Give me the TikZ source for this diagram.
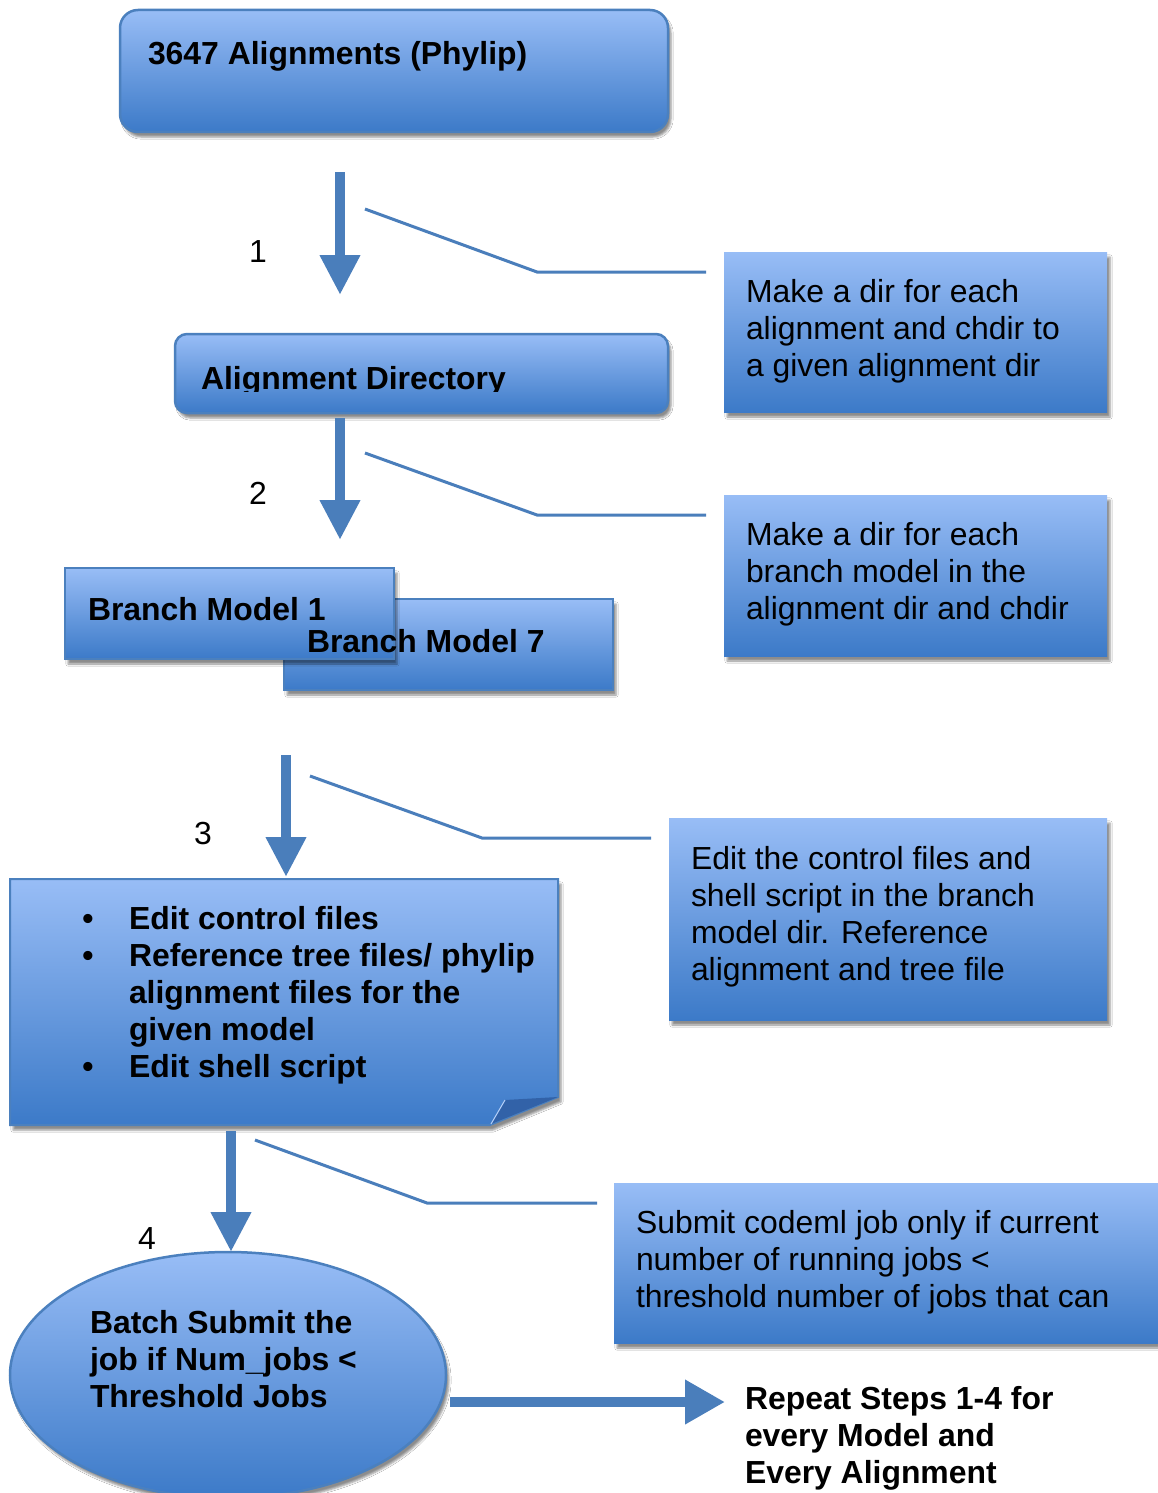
\documentclass[tikz,border=0pt]{standalone}
\usepackage{fontspec}
\setmainfont{Liberation Sans}
\usetikzlibrary{arrows.meta,shapes.geometric,shadows.blur}
\definecolor{topc}{RGB}{152,189,246}
\definecolor{midc}{RGB}{110,156,226}
\definecolor{botc}{RGB}{60,122,200}
\definecolor{edgec}{RGB}{75,128,190}
\definecolor{arrc}{RGB}{74,126,187}
\definecolor{foldc}{RGB}{50,98,168}
\newcommand\myfs{\fontsize{31.9}{37}\selectfont}
\begin{document}
\begin{tikzpicture}[x=1pt,y=-1pt,
  gbox/.style={shade, top color=topc, middle color=midc, bottom color=botc,
    inner sep=0pt, outer sep=0pt,
    blur shadow={shadow xshift=3pt, shadow yshift=-5pt, shadow opacity=45}},
  edged/.style={draw=edgec, line width=2.5pt},
  txt/.style={anchor=north west, inner sep=0pt, outer sep=0pt, align=left, font=\myfs},
  btxt/.style={anchor=north west, inner sep=0pt, outer sep=0pt, align=left, font=\myfs\bfseries},
  lbl/.style={anchor=base, inner sep=0pt, font=\myfs},
  bigarrow/.style={draw=arrc, line width=10pt, -{Triangle[length=40pt,width=38pt]}},
  callout/.style={draw=arrc, line width=3pt}
]
\clip (0,0) rectangle (1158,1493);
\fill[white] (0,0) rectangle (1158,1493);

% top box
\node[gbox, edged, rounded corners=18pt, minimum width=548pt, minimum height=122pt] (top) at (394,71) {};
\node[btxt, anchor=base west] (toptxt) at (148,65) {3647 Alignments (Phylip)};

% arrow 1
\coordinate (a1s) at (340,172);
\coordinate (a1e) at (340,295);
\draw[bigarrow] (a1s) -- (a1e);
\node[lbl] (n1) at (258,262) {1};
\coordinate (c1a) at (365,209);
\coordinate (c1b) at (537,272);
\coordinate (c1c) at (706,272);
\draw[callout] (c1a) -- (c1b) -- (c1c);

% note 1
\node[gbox, minimum width=383pt, minimum height=160pt] (r1) at (915.5,332) {};
\node[txt] (r1txt) at (746,277) {\strut Make a dir for each\\alignment and chdir to\\a given alignment dir};

% alignment directory
\node[gbox, edged, rounded corners=12pt, minimum width=493pt, minimum height=79pt] (ad) at (421.5,373.5) {};
\begin{scope}
\clip (175,334) rectangle (668,391);
\node[btxt, anchor=base west] (adtxt) at (201,389) {Alignment Directory};
\end{scope}

% arrow 2
\coordinate (a2s) at (340,418);
\coordinate (a2e) at (340,540);
\draw[bigarrow] (a2s) -- (a2e);
\node[lbl] (n2) at (258,504) {2};
\coordinate (c2a) at (365,453);
\coordinate (c2b) at (537,515);
\coordinate (c2c) at (706,515);
\draw[callout] (c2a) -- (c2b) -- (c2c);

% note 2
\node[gbox, minimum width=383pt, minimum height=161pt] (r2) at (915.5,575.5) {};
\node[txt] (r2txt) at (746,520) {\strut Make a dir for each\\branch model in the\\alignment dir and chdir};

% branch models
\node[gbox, edged, minimum width=329pt, minimum height=91pt] (bm7) at (448.5,644.5) {};
\node[gbox, edged, minimum width=329pt, minimum height=91pt] (bm1) at (229.5,613.5) {};
\node[btxt, anchor=base west] (bm1txt) at (88,620) {Branch Model 1};
\node[btxt, anchor=base west] (bm7txt) at (307,652) {Branch Model 7};

% arrow 3
\coordinate (a3s) at (286,755);
\coordinate (a3e) at (286,877);
\draw[bigarrow] (a3s) -- (a3e);
\node[lbl] (n3) at (203,844) {3};
\coordinate (c3a) at (310,776);
\coordinate (c3b) at (482,838);
\coordinate (c3c) at (651,838);
\draw[callout] (c3a) -- (c3b) -- (c3c);

% note 3
\node[gbox, minimum width=438pt, minimum height=202pt] (r3) at (888,919) {};
\node[txt] (r3txt) at (691,844) {\strut Edit the control files and\\shell script in the branch\\model dir. Reference\\alignment and tree file};

% bullet note with folded corner
\path[gbox, edged, line width=2pt] (10,879) -- (558,879) -- (558,1097) -- (490,1125) -- (10,1125) -- cycle;
\fill[foldc] (491,1124) -- (505,1100) -- (558,1097) -- cycle;
\draw[topc!70!white, line width=1pt] (491,1124) -- (505,1100);
\node[btxt] (bultxt) at (129,904) {\strut Edit control files\\Reference tree files/ phylip\\alignment files for the\\given model\\Edit shell script};
\node[btxt, anchor=north] (bulls) at (88,904) {\strut •\\•\\\strut\\\strut\\•};

% arrow 4
\coordinate (a4s) at (231,1131);
\coordinate (a4e) at (231,1252);
\draw[bigarrow] (a4s) -- (a4e);
\node[lbl] (n4) at (147,1249) {4};
\coordinate (c4a) at (255,1140);
\coordinate (c4b) at (427,1203);
\coordinate (c4c) at (597,1203);
\draw[callout] (c4a) -- (c4b) -- (c4c);

% note 4
\node[gbox, minimum width=551pt, minimum height=160pt] (r4) at (889.5,1263) {};
\node[txt] (r4txt) at (636,1208) {\strut Submit codeml job only if current\\number of running jobs <\\threshold number of jobs that can};

% ellipse
\node[gbox, edged, ellipse, minimum width=436pt, minimum height=246pt] (ell) at (228,1375) {};
\node[btxt] (elltxt) at (90,1308) {\strut Batch Submit the\\job if Num\_jobs <\\Threshold Jobs};

% final arrow
\coordinate (a5s) at (450,1402);
\coordinate (a5e) at (725,1402);
\draw[draw=arrc, line width=10pt, -{Triangle[length=40pt,width=42pt]}] (a5s) -- (a5e);
\node[btxt] (reptxt) at (745,1384) {\strut Repeat Steps 1-4 for\\every Model and\\Every Alignment};
\end{tikzpicture}
\end{document}
